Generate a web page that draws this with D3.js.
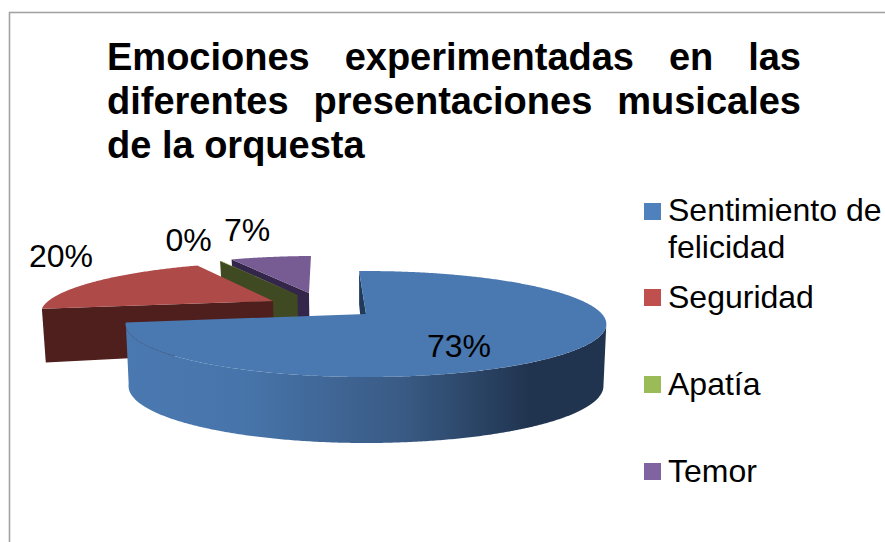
<!DOCTYPE html>
<html><head><meta charset="utf-8">
<script src="https://cdn.jsdelivr.net/npm/d3@7/dist/d3.min.js"></script>
<style>html,body{margin:0;padding:0;background:#fff}svg{display:block}text{font-family:"Liberation Sans",Arial,sans-serif;fill:#000}</style>
</head><body>
<script>
const categories = ["Sentimiento de felicidad", "Seguridad", "Apatía", "Temor"];
const values = [73, 20, 0.1, 6.9];
const titleLines = ["Emociones experimentadas en las", "diferentes presentaciones musicales", "de la orquesta"];

const W = 885, H = 542;
const svg = d3.select("body").append("svg").attr("width", W).attr("height", H);
svg.append("rect").attr("x", 9.5).attr("y", 12.5).attr("width", W).attr("height", H)
  .attr("fill", "#fff").attr("stroke", "#a3a3a3").attr("stroke-width", 1.6);

// title, justified
const titleLeft = 107, titleRight = 801, titleBase = [70, 114, 158];
titleLines.forEach((t, i) => {
  const el = svg.append("text").attr("x", titleLeft).attr("y", titleBase[i])
    .attr("font-weight", "bold").attr("font-size", 38).text(t);
  if (i < titleLines.length - 1) {
    const w = el.node().getComputedTextLength();
    el.style("word-spacing", ((titleRight - titleLeft - w) / (t.split(" ").length - 1)) + "px");
  }
});

// projection of the tilted disk
const cx = 366, cy = 314, persp = 0.189, A = 51.1, B = 236;
const drop = d3.scaleLinear().domain([-5, 10, 63]).range([54, 62, 66]);
const project = (u, v) => { const s = 1 - persp * v; return [cx + B * u / s, cy + A * v / s]; };
const lower = ([x, y]) => [cx + (x - cx) * 0.988, y + drop(y - cy)];
const offsets = [[0, 0], [-0.414, -0.267], [-0.312, -0.4], [-0.262, -0.446]];
const rad = Math.PI / 180;

const pie = d3.pie().sort(null).startAngle(-2 * rad).endAngle(358 * rad);
const arcs = pie(values);
const line = d3.line();

function rim(i, a0, a1) {
  const [ou, ov] = offsets[i], n = Math.max(2, Math.ceil(Math.abs(a1 - a0) / rad) * 2);
  return d3.range(n + 1).map(k => {
    const a = a0 + (a1 - a0) * k / n;
    return project(ou + Math.sin(a), ov - Math.cos(a));
  });
}
const apex = i => project(offsets[i][0], offsets[i][1]);
const topPath = (i, d) => [apex(i), ...rim(i, d.startAngle, d.endAngle)];
function startWall(i, d) {
  const p = rim(i, d.startAngle, d.startAngle + 0.001)[0], c = apex(i);
  return [c, p, lower(p), lower(c)];
}

const defs = svg.append("defs");
const grad = defs.append("linearGradient").attr("id", "side")
  .attr("gradientUnits", "userSpaceOnUse").attr("x1", 126).attr("x2", 607).attr("y1", 0).attr("y2", 0);
[[0, "#4a78b0"], [0.24, "#4775ab"], [0.58, "#395a84"], [0.84, "#20344f"], [1, "#20344f"]]
  .forEach(([o, c]) => grad.append("stop").attr("offset", o).attr("stop-color", c));

const g = svg.append("g");
const topCol = ["#4a78b0", "#ae4a47", "#8aa34a", "#775b93"];
const wallCol = ["#1f3a5a", "#4f1f1e", "#3f4a22", "#33264a"];

// back to front: Temor, Apatía, Seguridad, Sentimiento
[3, 2, 1, 0].forEach(i => {
  const d = arcs[i];
  g.append("path").attr("d", line(startWall(i, d)) + "Z").attr("fill", wallCol[i]);
  if (i === 0) {
    const r = rim(0, 101 * rad, d.endAngle);
    g.append("path").attr("d", line([...r, ...r.map(lower).reverse()]) + "Z").attr("fill", "url(#side)");
  }
  g.append("path").attr("d", line(topPath(i, d)) + "Z").attr("fill", topCol[i]);
});

// data labels
const labelPos = [[459, 357], [61, 267], [188.5, 251], [247, 241]];
values.forEach((v, i) => {
  svg.append("text").attr("x", labelPos[i][0]).attr("y", labelPos[i][1])
    .attr("text-anchor", "middle").attr("font-size", 32).text(d3.format(".0%")(v / 100));
});

// legend
const legendCol = ["#4f81bd", "#c0504d", "#9bbb59", "#8064a2"];
const swatchY = [203, 289, 376, 463];
const legendLines = [["Sentimiento de", "felicidad"], [categories[1]], [categories[2]], [categories[3]]];
const legendBase = [221, 308, 395, 482];
categories.forEach((c, i) => {
  svg.append("rect").attr("x", 644).attr("y", swatchY[i]).attr("width", 17).attr("height", 17).attr("fill", legendCol[i]);
  legendLines[i].forEach((t, j) => {
    svg.append("text").attr("x", 668).attr("y", legendBase[i] + j * 37).attr("font-size", 32).text(t);
  });
});
</script>
</body></html>
